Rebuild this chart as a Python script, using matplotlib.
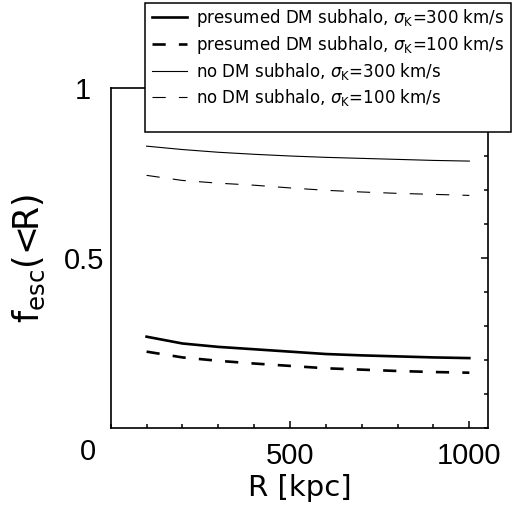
import matplotlib
matplotlib.use("Agg")
import matplotlib.pyplot as plt
from matplotlib.ticker import MultipleLocator
from matplotlib.patches import Rectangle
from matplotlib.transforms import ScaledTranslation

plt.rcParams['font.family'] = ['DejaVu Sans']
plt.rcParams['mathtext.fontset'] = 'dejavusans'
plt.rcParams['lines.scale_dashes'] = False

# radius in kpc and escape fractions
R = [100, 200, 300, 400, 500, 600, 700, 800, 900, 1000]
dm_300 = [0.268, 0.248, 0.238, 0.231, 0.224, 0.217, 0.213, 0.210, 0.207, 0.205]
dm_100 = [0.224, 0.207, 0.197, 0.189, 0.182, 0.175, 0.171, 0.167, 0.164, 0.162]
nodm_300 = [0.829, 0.819, 0.811, 0.805, 0.800, 0.796, 0.793, 0.790, 0.787, 0.785]
nodm_100 = [0.743, 0.728, 0.720, 0.714, 0.706, 0.699, 0.694, 0.690, 0.687, 0.684]

labels = [r"presumed DM subhalo, $\sigma_{\rm K}$=300 km/s",
          r"presumed DM subhalo, $\sigma_{\rm K}$=100 km/s",
          r"no DM subhalo, $\sigma_{\rm K}$=300 km/s",
          r"no DM subhalo, $\sigma_{\rm K}$=100 km/s"]

fig = plt.figure(figsize=(5.14, 5.12), dpi=100)
ax = fig.add_axes([0.2154, 0.1646, 0.734, 0.6634])

l1, = ax.plot(R, dm_300, color='black', lw=1.9)
l2, = ax.plot(R, dm_100, color='black', lw=1.9, dashes=(9.5, 9.5))
l3, = ax.plot(R, nodm_300, color='black', lw=0.8)
l4, = ax.plot(R, nodm_100, color='black', lw=0.8, dashes=(9.5, 9.5))

ax.set_xlim(0, 1052)
ax.set_ylim(0, 1)
ax.xaxis.set_minor_locator(MultipleLocator(100))
ax.yaxis.set_minor_locator(MultipleLocator(0.1))
ax.set_xticks([500, 1000])
ax.set_xticklabels(['500', '1000'], family='Liberation Sans')
ax.set_yticks([0.5, 1])
ax.set_yticklabels(['0.5', '1'], family='Liberation Sans')
ax.tick_params(axis='x', which='both', direction='in', bottom=True, top=False, labelsize=21, pad=10)
ax.tick_params(axis='y', which='both', direction='in', left=False, right=True, labelleft=True, labelsize=21, pad=5)
ax.tick_params(which='major', length=5, width=1.1)
ax.tick_params(which='minor', length=3, width=1.1)
for s in ax.spines.values():
    s.set_linewidth(1.2)

# "1" lines up with the decimal point of "0.5"
lab1 = ax.get_yticklabels()[1]
lab1.set_transform(lab1.get_transform() + ScaledTranslation(-0.13, 0, fig.dpi_scale_trans))

ax.text(-0.06, -0.07, '0', transform=ax.transAxes, fontsize=21, ha='center', va='center',
        family='Liberation Sans')

ax.set_xlabel('R [kpc]', fontsize=21, labelpad=3)
ax.set_ylabel(r'$\mathrm{f}_{\mathrm{esc}}$(<R)', fontsize=25)
ax.yaxis.set_label_coords(-0.17, 0.5)

box = Rectangle((145 / 514, 1 - 132 / 512), 366 / 514, 129 / 512, transform=fig.transFigure,
                facecolor='white', edgecolor='black', lw=1.1, zorder=3)
fig.add_artist(box)
leg = fig.legend([l1, l2, l3, l4], labels, loc='upper left',
                 bbox_to_anchor=(152 / 514, 1 - 7 / 512), fontsize=12, frameon=False,
                 handlelength=2.1, handletextpad=0.55, borderpad=0, borderaxespad=0,
                 labelspacing=0.3)
leg.set_zorder(4)

fig.savefig('out.png', dpi=100)
